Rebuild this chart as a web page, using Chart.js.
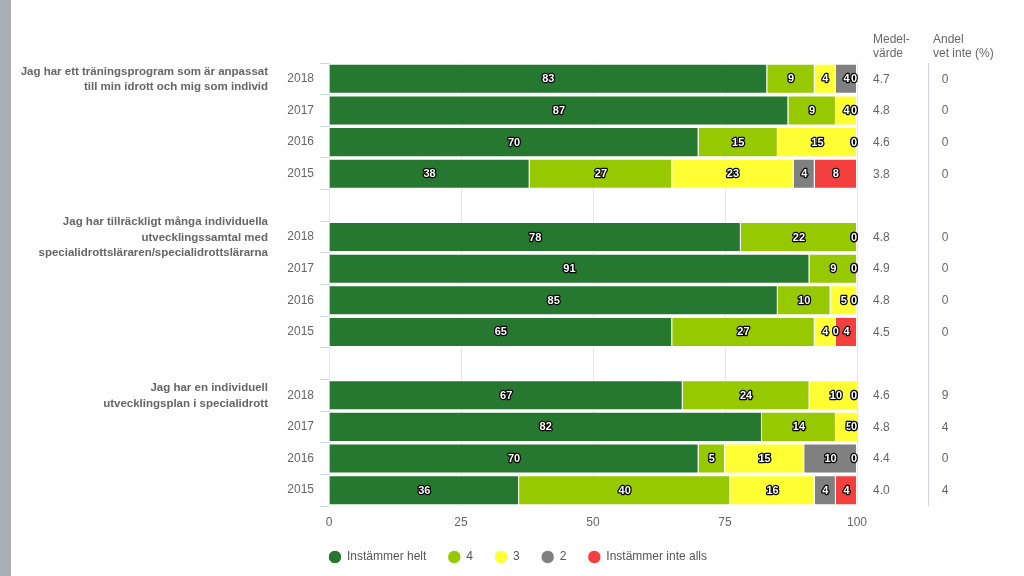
<!DOCTYPE html>
<html>
<head>
<meta charset="utf-8">
<script src="https://cdn.jsdelivr.net/npm/chart.js@4"></script>
<style>
  html, body { margin: 0; padding: 0; background: #fff; }
  #wrap { position: relative; width: 1024px; height: 576px; overflow: hidden; }
  #stripe { position: absolute; left: 0; top: 0; width: 11px; height: 576px; background: #a9adb6; }
</style>
</head>
<body>
<div id="wrap">
  <canvas id="chart" width="1024" height="576"></canvas>
  <div id="stripe"></div>
</div>
<script>
// ── Data ─────────────────────────────────────────────────────────

const years = ['2018', '2017', '2016', '2015'];

const questions = [
  ['Jag har ett träningsprogram som är anpassat', 'till min idrott och mig som individ'],
  ['Jag har tillräckligt många individuella', 'utvecklingssamtal med', 'specialidrottsläraren/specialidrottslärarna'],
  ['Jag har en individuell', 'utvecklingsplan i specialidrott']
];

const seriesNames  = ['Instämmer helt', '4', '3', '2', 'Instämmer inte alls'];
const seriesColors = ['#26772f', '#97c900', '#ffff33', '#808080', '#f43f3f'];

// one row per question, one value per year (2018..2015)
const helt     = [[83, 87, 70, 38], [78, 91, 85, 65], [67, 82, 70, 36]];
const fyra     = [[ 9,  9, 15, 27], [22,  9, 10, 27], [24, 14,  5, 40]];
const tre      = [[ 4,  4, 15, 23], [ 0,  0,  5,  4], [10,  5, 15, 16]];
const tva      = [[ 4,  0,  0,  4], [ 0,  0,  0,  0], [ 0,  0, 10,  4]];
const inteAlls = [[ 0,  0,  0,  8], [ 0,  0,  0,  4], [ 0,  0,  0,  4]];

const medel = [[4.7, 4.8, 4.6, 3.8], [4.8, 4.9, 4.8, 4.5], [4.6, 4.8, 4.4, 4.0]];
const andel = [[0, 0, 0, 0], [0, 0, 0, 0], [9, 4, 0, 4]];

const xTicks = [0, 25, 50, 75, 100];

// ── Build category slots (empty slot between questions) ─────────

function flatten(groups, filler) {
  const out = [];
  groups.forEach((g, i) => {
    if (i > 0) out.push(filler);
    out.push(...g);
  });
  return out;
}

const labels = flatten(questions.map(() => years), '');
const seriesData = [helt, fyra, tre, tva, inteAlls].map(s => flatten(s, null));
const medelFlat = flatten(medel, null);
const andelFlat = flatten(andel, null);

const FONT = '"Liberation Sans", Arial, Helvetica, sans-serif';
const GREY = '#666666';

// ── Custom drawing: value labels, question text, side columns ───

const extras = {
  id: 'extras',
  afterDatasetsDraw(chart) {
    const ctx = chart.ctx;
    const area = chart.chartArea;
    ctx.save();
    ctx.font = 'bold 11px ' + FONT;
    ctx.textAlign = 'center';
    ctx.textBaseline = 'middle';
    ctx.lineJoin = 'round';
    ctx.lineWidth = 2.5;
    ctx.strokeStyle = '#000';
    ctx.fillStyle = '#fff';
    chart.data.datasets.forEach((ds, di) => {
      const meta = chart.getDatasetMeta(di);
      meta.data.forEach((el, i) => {
        const v = ds.data[i];
        if (v === null || v === undefined) return;
        const p = el.getProps(['x', 'y', 'base'], true);
        let x = (p.x + p.base) / 2;
        x = Math.min(x, area.right - 3);
        ctx.strokeText(String(v), x, p.y + 0.5);
        ctx.fillText(String(v), x, p.y + 0.5);
      });
    });
    ctx.restore();
  },
  afterDraw(chart) {
    const ctx = chart.ctx;
    const area = chart.chartArea;
    const yScale = chart.scales.y;
    ctx.save();

    // question text, right aligned left of the year labels
    ctx.font = 'bold 11.5px ' + FONT;
    ctx.fillStyle = GREY;
    ctx.textAlign = 'right';
    ctx.textBaseline = 'middle';
    questions.forEach((lines, g) => {
      const cy = yScale.getPixelForValue(g * 5) + 0.5;
      const lh = 15.5;
      lines.forEach((ln, k) => {
        ctx.fillText(ln, 268, cy - (lines.length - 1) * lh / 2 + k * lh);
      });
    });

    // headers of the side columns
    ctx.font = '12px ' + FONT;
    ctx.textAlign = 'left';
    ctx.fillText('Medel-', 873, 40);
    ctx.fillText('värde', 873, 54);
    ctx.fillText('Andel', 933, 40);
    ctx.fillText('vet inte (%)', 933, 54);

    // side column values
    labels.forEach((lb, i) => {
      if (medelFlat[i] === null) return;
      const y = yScale.getPixelForValue(i) + 0.5;
      ctx.textAlign = 'left';
      ctx.fillText(medelFlat[i].toFixed(1), 873, y);
      ctx.textAlign = 'center';
      ctx.fillText(String(andelFlat[i]), 945, y);
    });

    // separator line
    ctx.strokeStyle = '#ccd6eb';
    ctx.lineWidth = 1;
    ctx.beginPath();
    ctx.moveTo(928.5, area.top);
    ctx.lineTo(928.5, area.bottom);
    ctx.stroke();
    ctx.restore();
  }
};

// ── Chart ────────────────────────────────────────────────────────

new Chart(document.getElementById('chart'), {
  type: 'bar',
  data: {
    labels,
    datasets: seriesData.map((d, i) => ({
      label: seriesNames[i],
      data: d,
      backgroundColor: seriesColors[i],
      borderColor: '#ffffff',
      borderWidth: 1,
      barPercentage: 0.95,
      categoryPercentage: 1.0,
      clip: 0
    }))
  },
  options: {
    indexAxis: 'y',
    responsive: false,
    animation: false,
    layout: { padding: { left: 12, right: 0, top: 63, bottom: 3 } },
    plugins: {
      tooltip: { enabled: false },
      legend: {
        position: 'bottom',
        labels: {
          usePointStyle: true,
          pointStyle: 'circle',
          boxWidth: 12,
          boxHeight: 9.5,
          padding: 22,
          color: '#555',
          font: { family: FONT, size: 12 }
        }
      }
    },
    scales: {
      x: {
        stacked: true,
        min: 0,
        max: 100,
        afterBuildTicks: s => { s.ticks = xTicks.map(v => ({ value: v })); },
        afterFit: s => { s.height = 23; },
        grid: { color: '#e6e6e6', drawTicks: false },
        border: { display: false },
        ticks: { color: GREY, padding: 9, font: { family: FONT, size: 12 } }
      },
      y: {
        stacked: true,
        afterFit: s => { s.width = 317; },
        grid: { drawOnChartArea: false, drawTicks: true, tickLength: 9, color: '#ccd6eb', offset: true },
        border: { display: false },
        ticks: { color: GREY, padding: 6, font: { family: FONT, size: 12 } }
      },
      side: {
        type: 'linear',
        axis: 'y',
        position: 'right',
        afterFit: s => { s.width = 167; },
        grid: { display: false },
        border: { display: false },
        ticks: { display: false }
      }
    }
  },
  plugins: [extras]
});
</script>
</body>
</html>
